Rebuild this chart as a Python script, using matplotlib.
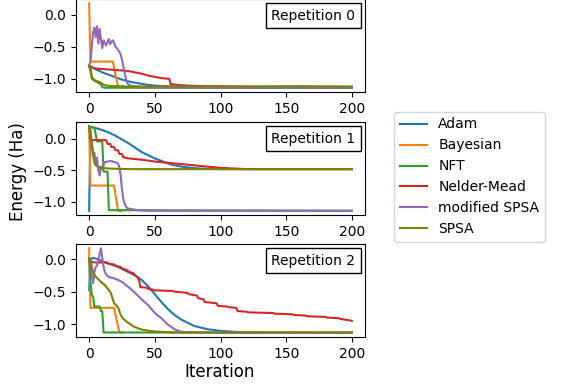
# Energy convergence of several optimizers, three repetitions

import matplotlib
matplotlib.use("Agg")
import matplotlib.pyplot as plt
from matplotlib.offsetbox import AnchoredText

# --- Data (vertices) ---
optimizers = ["Adam", "Bayesian", "NFT", "Nelder-Mead", "modified SPSA", "SPSA"]
colors = ["tab:blue", "tab:orange", "tab:green", "tab:red", "tab:purple", "olive"]
xticks = [0, 50, 100, 150, 200]
yticks = [0.0, -0.5, -1.0]

# Repetition 0
rep0_adam_x = [0, 1, 3, 6, 10, 14, 18, 22, 26, 30, 35, 40, 47, 55, 65, 80, 100, 130, 200]
rep0_adam_y = [-0.80, -0.80, -0.83, -0.86, -0.90, -0.93, -0.96, -0.99, -1.02, -1.04, -1.06, -1.08, -1.10, -1.115, -1.125, -1.132, -1.135, -1.137, -1.137]
rep0_bayes_x = [0, 1, 18, 22, 25]
rep0_bayes_y = [0.18, -0.73, -0.73, -1.12, -1.12]
rep0_nft_x = [0, 1, 2, 4, 7, 9, 10, 12, 200]
rep0_nft_y = [-0.80, -0.87, -1.00, -1.03, -1.06, -1.09, -1.13, -1.14, -1.14]
rep0_nm_x = [0, 1, 5, 12, 18, 25, 30, 35, 40, 45, 50, 55, 61, 62, 65, 70, 80, 100, 130, 200]
rep0_nm_y = [-0.80, -0.82, -0.84, -0.85, -0.86, -0.87, -0.88, -0.90, -0.92, -0.95, -0.97, -0.99, -1.00, -1.08, -1.09, -1.10, -1.11, -1.12, -1.125, -1.13]
rep0_mspsa_x = [0, 1, 2, 3, 4, 5, 6, 7, 8, 9, 10, 11, 12, 13, 14, 15, 16, 17, 18, 19, 20, 21, 22, 23, 24, 25, 26, 27, 28, 29, 30, 32, 35, 40, 60, 200]
rep0_mspsa_y = [-0.78, -0.75, -0.50, -0.28, -0.20, -0.35, -0.18, -0.45, -0.22, -0.38, -0.52, -0.40, -0.45, -0.48, -0.42, -0.38, -0.46, -0.42, -0.40, -0.44, -0.50, -0.52, -0.55, -0.58, -0.62, -0.70, -0.80, -0.90, -1.00, -1.06, -1.09, -1.11, -1.12, -1.13, -1.135, -1.135]
rep0_spsa_x = [0, 1, 2, 3, 5, 8, 10, 12, 15, 20, 30, 50, 80, 120, 160, 200]
rep0_spsa_y = [-0.80, -0.85, -0.95, -1.00, -1.03, -1.05, -1.08, -1.10, -1.11, -1.115, -1.12, -1.12, -1.115, -1.12, -1.115, -1.12]

# Repetition 1
rep1_adam_x = [0, 1, 5, 10, 15, 20, 25, 30, 35, 40, 45, 50, 55, 60, 65, 70, 80, 90, 100, 200]
rep1_adam_y = [-1.14, 0.19, 0.17, 0.14, 0.10, 0.05, -0.01, -0.07, -0.14, -0.21, -0.26, -0.31, -0.35, -0.39, -0.42, -0.44, -0.465, -0.475, -0.48, -0.48]
rep1_bayes_x = [0, 1, 19, 22, 25]
rep1_bayes_y = [0.20, -0.74, -0.74, -1.14, -1.14]
rep1_nft_x = [0, 4, 6, 10, 11, 14, 15, 200]
rep1_nft_y = [0.19, 0.18, -0.04, -0.04, -0.52, -0.52, -1.13, -1.14]
rep1_nm_x = [0, 1, 2, 13, 14, 16, 17, 19, 20, 22, 23, 25, 26, 30, 40, 50, 60, 70, 80, 90, 100, 110, 120, 200]
rep1_nm_y = [0.20, -0.02, -0.02, -0.02, -0.08, -0.08, -0.13, -0.13, -0.18, -0.18, -0.24, -0.24, -0.29, -0.31, -0.33, -0.36, -0.38, -0.40, -0.42, -0.44, -0.46, -0.47, -0.48, -0.48]
rep1_mspsa_x = [0, 1, 2, 3, 4, 5, 6, 7, 8, 9, 10, 11, 12, 14, 16, 18, 20, 22, 23, 24, 25, 26, 27, 28, 29, 31, 34, 37, 45, 200]
rep1_mspsa_y = [0.20, 0.08, -0.10, -0.28, -0.22, -0.40, -0.30, -0.50, -0.58, -0.44, -0.48, -0.40, -0.37, -0.36, -0.35, -0.36, -0.37, -0.39, -0.45, -0.58, -0.80, -0.95, -1.03, -1.07, -1.10, -1.11, -1.12, -1.13, -1.14, -1.14]
rep1_spsa_x = [0, 1, 2, 3, 4, 5, 7, 10, 15, 20, 30, 200]
rep1_spsa_y = [0.20, 0.12, -0.05, -0.22, -0.38, -0.42, -0.45, -0.46, -0.47, -0.475, -0.48, -0.48]

# Repetition 2
rep2_adam_x = [0, 1, 3, 5, 10, 15, 20, 25, 30, 35, 40, 45, 50, 55, 60, 65, 70, 75, 80, 90, 100, 110, 120, 140, 200]
rep2_adam_y = [-0.48, 0.00, 0.02, 0.01, -0.03, -0.07, -0.10, -0.15, -0.20, -0.25, -0.32, -0.42, -0.54, -0.66, -0.77, -0.86, -0.93, -0.98, -1.03, -1.08, -1.105, -1.12, -1.13, -1.135, -1.135]
rep2_bayes_x = [0, 1, 19, 23, 25]
rep2_bayes_y = [0.17, -0.75, -0.75, -1.13, -1.13]
rep2_nft_x = [0, 1, 2, 3, 4, 8, 9, 10, 11, 200]
rep2_nft_y = [0.00, -0.35, -0.55, -0.58, -0.73, -0.73, -0.80, -0.80, -1.13, -1.135]
rep2_nm_x = [0, 1, 5, 10, 14, 15, 19, 20, 24, 25, 29, 30, 34, 35, 37, 38, 39, 44, 45, 49, 50, 64, 65, 75, 76, 82, 83, 87, 88, 97, 98,
             105, 106, 112, 113, 120, 121, 140, 141, 155, 156, 165, 166, 180, 181, 190, 191, 200]
rep2_nm_y = [0.00, -0.04, -0.05, -0.05, -0.05, -0.07, -0.08, -0.10, -0.12, -0.14, -0.17, -0.19, -0.22, -0.25, -0.28, -0.32, -0.43, -0.44, -0.46, -0.47, -0.48, -0.49, -0.50, -0.52, -0.54, -0.56, -0.60, -0.62, -0.66, -0.68, -0.72,
             -0.73, -0.74, -0.75, -0.80, -0.81, -0.82, -0.83, -0.84, -0.85, -0.86, -0.87, -0.88, -0.89, -0.90, -0.91, -0.92, -0.95]
rep2_mspsa_x = [0, 1, 2, 3, 4, 5, 6, 7, 8, 9, 10, 11, 12, 14, 16, 20, 25, 30, 35, 40, 45, 50, 55, 60, 65, 70, 80, 100, 200]
rep2_mspsa_y = [0.00, -0.05, -0.25, -0.37, -0.20, -0.12, -0.10, -0.02, 0.08, 0.17, 0.02, -0.12, -0.20, -0.26, -0.28, -0.30, -0.35, -0.43, -0.52, -0.62, -0.71, -0.83, -0.91, -1.01, -1.08, -1.12, -1.13, -1.135, -1.135]
rep2_spsa_x = [0, 1, 2, 3, 5, 9, 12, 14, 16, 17, 19, 21, 22, 24, 26, 29, 34, 39, 47, 54, 65, 200]
rep2_spsa_y = [0.02, 0.00, -0.12, -0.20, -0.27, -0.35, -0.40, -0.45, -0.50, -0.55, -0.68, -0.72, -0.74, -0.86, -0.92, -0.97, -1.04, -1.08, -1.11, -1.12, -1.13, -1.13]

reps = [
    [(rep0_adam_x, rep0_adam_y), (rep0_bayes_x, rep0_bayes_y), (rep0_nft_x, rep0_nft_y),
     (rep0_nm_x, rep0_nm_y), (rep0_mspsa_x, rep0_mspsa_y), (rep0_spsa_x, rep0_spsa_y)],
    [(rep1_adam_x, rep1_adam_y), (rep1_bayes_x, rep1_bayes_y), (rep1_nft_x, rep1_nft_y),
     (rep1_nm_x, rep1_nm_y), (rep1_mspsa_x, rep1_mspsa_y), (rep1_spsa_x, rep1_spsa_y)],
    [(rep2_adam_x, rep2_adam_y), (rep2_bayes_x, rep2_bayes_y), (rep2_nft_x, rep2_nft_y),
     (rep2_nm_x, rep2_nm_y), (rep2_mspsa_x, rep2_mspsa_y), (rep2_spsa_x, rep2_spsa_y)],
]

# --- Figure ---
W, H = 581, 388
fig = plt.figure(figsize=(W / 100, H / 100), dpi=100)

# axes boxes in pixels: (top, bottom)
boxes = [(-1, 92), (122, 215), (244, 337)]
left_px, right_px = 76, 365

axes = []
for k, (top, bottom) in enumerate(boxes):
    ax = fig.add_axes([left_px / W, 1 - bottom / H, (right_px - left_px) / W, (bottom - top) / H])
    for (x, y), name, c in zip(reps[k], optimizers, colors):
        ax.plot(x, y, color=c, lw=1.5, label=name)
    ax.set_xticks(xticks)
    ax.set_yticks(yticks)
    ax.tick_params(labelsize=10)
    at = AnchoredText(f"Repetition {k}", loc="upper right", prop=dict(size=10), borderpad=0.3)
    ax.add_artist(at)
    axes.append(ax)

handles, labels = axes[0].get_legend_handles_labels()
fig.legend(handles, labels, loc="upper left", bbox_to_anchor=(387 / W, 1 - 105 / H), fontsize=10)

fig.text(18 / W, 1 - 172 / H, "Energy (Ha)", rotation=90, ha="center", va="center", fontsize=12)
fig.text(220 / W, 1 - 372 / H, "Iteration", ha="center", va="center", fontsize=12)

fig.savefig("out.png", dpi=100)
